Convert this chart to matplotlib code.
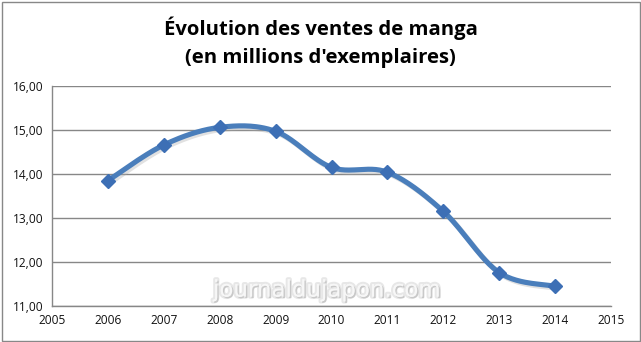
import numpy as np
import matplotlib
matplotlib.use("Agg")
import matplotlib.pyplot as plt
import matplotlib.patheffects as pe
from matplotlib.ticker import FuncFormatter

years = [2006, 2007, 2008, 2009, 2010, 2011, 2012, 2013, 2014]
sales = [13.85, 14.66, 15.06, 14.97, 14.15, 14.04, 13.15, 11.76, 11.45]
x_ticks = list(range(2005, 2016))
y_ticks = [11, 12, 13, 14, 15, 16]

title = "Évolution des ventes de manga\n(en millions d'exemplaires)"
watermark = "journaldujapon.com"


def smooth(xs, ys, n=30):
    """Excel-style smoothed line: cubic Bezier segments with Catmull-Rom handles."""
    xs = np.asarray(xs, float)
    ys = np.asarray(ys, float)
    px = np.concatenate([[xs[0]], xs, [xs[-1]]])
    py = np.concatenate([[ys[0]], ys, [ys[-1]]])
    out_x, out_y = [], []
    t = np.linspace(0, 1, n)
    for i in range(1, len(px) - 2):
        p0 = np.array([px[i], py[i]])
        p3 = np.array([px[i + 1], py[i + 1]])
        c1 = p0 + (np.array([px[i + 1], py[i + 1]]) - np.array([px[i - 1], py[i - 1]])) / 6
        c2 = p3 - (np.array([px[i + 2], py[i + 2]]) - np.array([px[i], py[i]])) / 6
        b = ((1 - t) ** 3)[:, None] * p0 + (3 * (1 - t) ** 2 * t)[:, None] * c1 \
            + (3 * (1 - t) * t ** 2)[:, None] * c2 + (t ** 3)[:, None] * p3
        out_x.extend(b[:, 0])
        out_y.extend(b[:, 1])
    return np.array(out_x), np.array(out_y)


fig = plt.figure(figsize=(6.41, 3.42), dpi=100)
fig.patch.set_facecolor("white")

# chart border
fig.add_artist(plt.Rectangle((1.5 / 641, 1.5 / 342), 638 / 641, 339 / 342,
                             transform=fig.transFigure, fill=False,
                             edgecolor="#888888", linewidth=1.0))

ax = fig.add_axes([52 / 641, 1 - 306 / 342, (611 - 52) / 641, (306 - 86) / 342])
ax.set_xlim(2005, 2015)
ax.set_ylim(11, 16)
ax.set_xticks(x_ticks)
ax.set_yticks(y_ticks)
ax.yaxis.set_major_formatter(FuncFormatter(lambda v, p: f"{v:.2f}".replace(".", ",")))
ax.tick_params(length=0, labelsize=8.6, colors="#111111", pad=6)
for lab in ax.get_xticklabels() + ax.get_yticklabels():
    lab.set_fontfamily("Open Sans")
ax.grid(axis="y", color="#878787", linewidth=1.0)
ax.set_axisbelow(True)
for side in ["top", "right"]:
    ax.spines[side].set_visible(False)
for side in ["left", "bottom"]:
    ax.spines[side].set_color("#878787")
    ax.spines[side].set_linewidth(1.0)

ax.text(2009.92, 11.36, watermark, ha="center", va="center",
        fontsize=16.5, color="#f7f7f7", family="DejaVu Sans",
        path_effects=[pe.withStroke(linewidth=3, foreground="#d8d8d8", alpha=0.6),
                      pe.withSimplePatchShadow(offset=(1, -1), shadow_rgbFace="#aaaaaa", alpha=0.5)],
        zorder=1)

sx, sy = smooth(years, sales)
ax.plot(sx, sy, color="#4a7ebb", linewidth=3.7, solid_capstyle="round", zorder=3,
        path_effects=[pe.SimpleLineShadow(offset=(1.5, -1.5), shadow_color="#aaaaaa", alpha=0.35),
                      pe.Normal()])
ax.plot(years, sales, linestyle="none", marker="D", markersize=7,
        color="#3d6fb5", markeredgecolor="#3d6fb5", zorder=4)

fig.text(0.5, 1 - 42 / 342, title, ha="center", va="center", fontsize=14.6,
         fontweight="bold", family="Open Sans", linespacing=1.5, color="black")

fig.savefig("out.png", dpi=100)
